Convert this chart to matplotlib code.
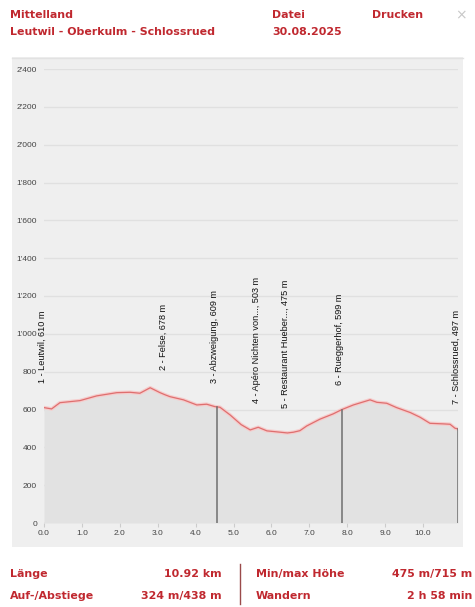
import matplotlib
matplotlib.use("Agg")
import matplotlib.pyplot as plt
from matplotlib.patches import Rectangle
from matplotlib.lines import Line2D
import numpy as np

# ---- data ----
dist_km = [0.0, 0.2, 0.42, 0.95, 1.39, 1.92, 2.27, 2.53, 2.8, 3.06, 3.19, 3.32, 3.68,
           4.03, 4.29, 4.51, 4.64, 4.91, 5.2, 5.44, 5.65, 5.88, 6.23, 6.42, 6.58, 6.75,
           6.93, 7.28, 7.63, 7.85, 8.16, 8.6, 8.78, 9.04, 9.3, 9.66, 9.92, 10.18, 10.53,
           10.71, 10.84, 10.92]
elev_m = [610, 603, 636, 647, 672, 689, 691, 686, 715, 689, 678, 668, 651,
          624, 628, 615, 612, 571, 520, 492, 506, 487, 480, 476, 480, 488,
          513, 549, 577, 599, 624, 651, 638, 633, 610, 584, 559, 527, 524,
          522, 501, 497]

wp_km = [0.0, 3.19, 4.55, 5.65, 6.42, 7.85, 10.92]
wp_elev = [610, 678, 609, 503, 475, 599, 497]
wp_labels = ["1 - Leutwil, 610 m", "2 - Felse, 678 m", "3 - Abzweigung, 609 m",
             "4 - Apéro Nichten von..., 503 m", "5 - Restaurant Hueber..., 475 m",
             "6 - Rueggerhof, 599 m", "7 - Schlossrued, 497 m"]
wp_line_shown = [False, False, True, False, False, True, True]

y_ticks = [0, 200, 400, 600, 800, 1000, 1200, 1400, 1600, 1800, 2000, 2200, 2400]
y_tick_labels = ["0", "200", "400", "600", "800", "1'000", "1'200", "1'400",
                 "1'600", "1'800", "2'000", "2'200", "2'400"]
x_ticks = [0, 1, 2, 3, 4, 5, 6, 7, 8, 9, 10]
x_tick_labels = ["0.0", "1.0", "2.0", "3.0", "4.0", "5.0", "6.0", "7.0", "8.0", "9.0", "10.0"]

title1 = "Mittelland"
title2 = "Leutwil - Oberkulm - Schlossrued"
footer_left = [("Länge", "10.92 km"), ("Auf-/Abstiege", "324 m/438 m")]
footer_right = [("Min/max Höhe", "475 m/715 m"), ("Wandern", "2 h 58 min")]

# ---- figure ----
W, H = 475, 607
fig = plt.figure(figsize=(W / 100, H / 100), dpi=100)
fig.patch.set_facecolor("white")

def fx(px):
    return px / W

def fy(py):
    return 1 - py / H

red = "#c0282f"
hfont = dict(family="DejaVu Sans", fontweight="bold", color=red, fontsize=7.9)

# panel background
fig.add_artist(Rectangle((fx(12), fy(547)), fx(463) - fx(12), fy(57) - fy(547),
                         transform=fig.transFigure, facecolor="#efefef",
                         edgecolor="none", zorder=0))
fig.add_artist(Line2D([fx(12), fx(463)], [fy(57.5), fy(57.5)], transform=fig.transFigure,
                      color="#e2e2e2", lw=1.0, zorder=1))

# header
fig.text(fx(10), fy(15), title1, va="center", ha="left", **hfont)
fig.text(fx(10), fy(32), title2, va="center", ha="left", **hfont)
fig.text(fx(272), fy(15), "Datei", va="center", ha="left", **hfont)
fig.text(fx(272), fy(32), "30.08.2025", va="center", ha="left", **hfont)
fig.text(fx(372), fy(15), "Drucken", va="center", ha="left", **hfont)
fig.text(fx(461), fy(15), "×", va="center", ha="center", color="#c8c8c8",
         fontsize=10, family="DejaVu Sans")

# footer
for i, (lab, val) in enumerate(footer_left):
    yy = fy(574 + 22 * i)
    fig.text(fx(10), yy, lab, va="center", ha="left", **hfont)
    fig.text(fx(222), yy, val, va="center", ha="right", **hfont)
for i, (lab, val) in enumerate(footer_right):
    yy = fy(574 + 22 * i)
    fig.text(fx(256), yy, lab, va="center", ha="left", **hfont)
    fig.text(fx(472), yy, val, va="center", ha="right", **hfont)
fig.add_artist(Line2D([fx(240), fx(240)], [fy(564), fy(604)], transform=fig.transFigure,
                      color="#9a4a4a", lw=1.0))

# axes
ax = fig.add_axes([fx(44), fy(523), fx(458) - fx(44), fy(69) - fy(523)])
ax.set_facecolor("none")
ax.set_xlim(0, 10.92)
ax.set_ylim(0, 2400)
for s in ax.spines.values():
    s.set_visible(False)
ax.axhline(0, color="#cfcfcf", lw=1.0, zorder=1)

ax.set_yticks(y_ticks)
ax.set_yticklabels(y_tick_labels)
ax.set_xticks(x_ticks)
ax.set_xticklabels(x_tick_labels)
ax.tick_params(axis="y", length=0, pad=5, labelsize=6.0, labelcolor="#444444")
ax.tick_params(axis="x", length=3, width=0.8, color="#cccccc", pad=2,
               labelsize=6.0, labelcolor="#444444")
for lab in ax.get_xticklabels() + ax.get_yticklabels():
    lab.set_family("Liberation Sans")
ax.grid(axis="y", color="#e0e0e0", lw=1.0, zorder=0)
ax.set_axisbelow(True)

ax.fill_between(dist_km, elev_m, 0, color="#e2e2e2", lw=0, zorder=2)
ax.plot(dist_km, elev_m, color="#f6cccc", lw=2.6, zorder=3, solid_joinstyle="round")
ax.plot(dist_km, elev_m, color="#de6f6f", lw=0.9, zorder=4, solid_joinstyle="round")

for xk, ev, lab, show in zip(wp_km, wp_elev, wp_labels, wp_line_shown):
    if show:
        yv = float(np.interp(xk, dist_km, elev_m))
        ax.plot([xk, xk], [0, yv], color="#6e6e6e", lw=1.1, zorder=5)
    ax.annotate(lab, xy=(xk, ev), xytext=(-1.5, 18), textcoords="offset points",
                rotation=90, ha="center", va="bottom", fontsize=6.6,
                family="Liberation Sans", color="#111111", zorder=6,
                annotation_clip=False)

fig.savefig("out.png", dpi=100, facecolor="white")
